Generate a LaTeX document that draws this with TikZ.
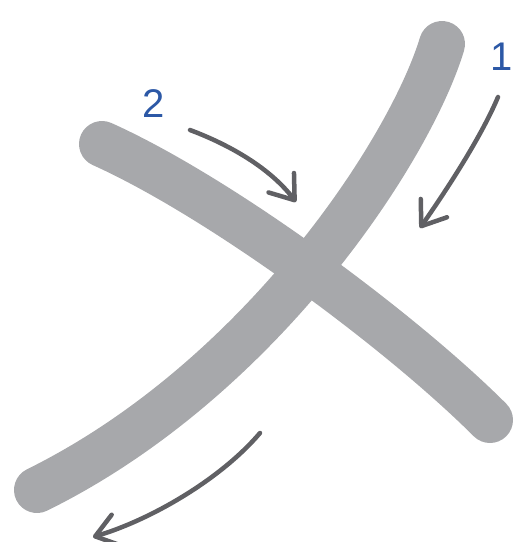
\documentclass[tikz,border=0pt]{standalone}
\usepackage{fontspec}
\setmainfont{Liberation Sans}
\usetikzlibrary{arrows.meta}
\definecolor{strokegray}{HTML}{A7A8AB}
\definecolor{arrowgray}{HTML}{606064}
\definecolor{numblue}{HTML}{2C58A6}
\begin{document}
\begin{tikzpicture}[x=1pt,y=-1pt,
  brush/.style={draw=strokegray,line width=46pt,line cap=round},
  dirarrow/.style={draw=arrowgray,line width=4.5pt,line cap=round,
    -{Straight Barb[length=22pt,width=32pt,line width=4.5pt,round]}},
  numlabel/.style={text=numblue,font=\fontsize{40}{40}\selectfont,inner sep=0pt}]
\useasboundingbox (0,0) rectangle (514,542);
% strokes
\coordinate (s1a) at (442,44);
\coordinate (s1b) at (37,490);
\coordinate (s2a) at (102,144);
\coordinate (s2b) at (490,420);
\draw[brush] (s1a) .. controls (410,150) and (260,380) .. (s1b);
\draw[brush] (s2a) .. controls (220,197) and (400,330) .. (s2b);
% arrows
\coordinate (a1s) at (498,97);
\coordinate (a1e) at (420,228);
\coordinate (a2s) at (190,130);
\coordinate (a2e) at (296,202);
\coordinate (a3s) at (260,433);
\coordinate (a3e) at (93,537);
\draw[dirarrow] (a1s) .. controls (482,135) and (450,185) .. (a1e);
\draw[dirarrow] (a2s) .. controls (230,145) and (270,168) .. (a2e);
\draw[dirarrow] (a3s) .. controls (220,480) and (150,520) .. (a3e);
% labels
\node[numlabel] (n1) at (502,57) {1};
\node[numlabel] (n2) at (154,104) {2};
\end{tikzpicture}
\end{document}
